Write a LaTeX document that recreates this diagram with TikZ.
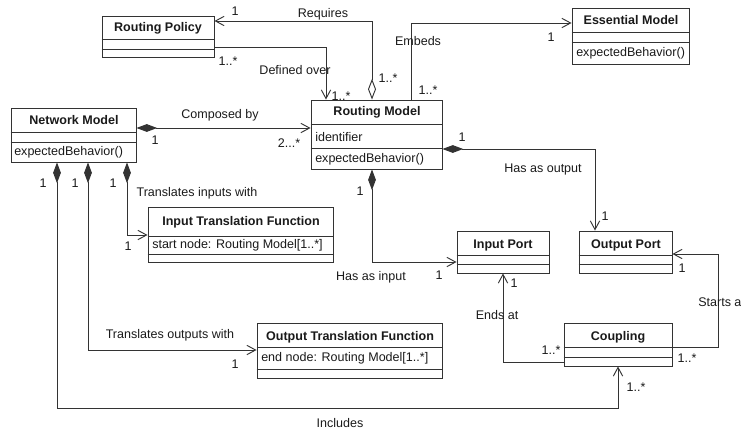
\documentclass[tikz,border=0pt]{standalone}
\usepackage{fontspec}
\setmainfont{Liberation Sans}
\usetikzlibrary{arrows.meta,fit}
\definecolor{lc}{HTML}{333333}
\definecolor{tc}{HTML}{1A1A1A}
\newcommand\csep[2]{\draw[link] (#1.west |- 0,#2) -- (#1.east |- 0,#2);}
\begin{document}
\begin{tikzpicture}[x=0.75pt,y=-0.75pt,
  font=\fontsize{9.4}{11}\selectfont,
  every node/.style={inner sep=0pt, text=tc},
  cls/.style={draw=lc, fill=white, line width=0.7pt, inner sep=0pt},
  ttl/.style={font=\fontsize{9.4}{11}\selectfont\bfseries},
  mem/.style={anchor=west},
  link/.style={draw=lc, line width=0.7pt},
  assoc/.style={link, -{Straight Barb[length=6.5pt,width=7pt]}},
  comp/.style={link, {Diamond[length=15.5pt,width=5.8pt]}-{Straight Barb[length=6.5pt,width=7pt]}},
  agg/.style={link, {Diamond[open,length=15.5pt,width=6pt]}-{Straight Barb[length=6.5pt,width=7pt]}}
]
\useasboundingbox (0,0) rectangle (741,432);

% ---------- classes ----------
\node[cls, fit={(102,16)(214,57)}] (rp) {};
\csep{rp}{39}\csep{rp}{49}
\node[ttl] (rpt) at (158,28) {Routing Policy};

\node[cls, fit={(572,8)(689,64)}] (em) {};
\csep{em}{32}\csep{em}{42}
\node[ttl] (emt) at (631,20) {Essential Model};
\node[mem] (emm) at (576,53) {expectedBehavior()};

\node[cls, fit={(11,108)(136,162)}] (nm) {};
\csep{nm}{132}\csep{nm}{142}
\node[ttl] (nmt) at (74,120) {Network Model};
\node[mem] (nmm) at (14,152) {expectedBehavior()};

\node[cls, fit={(311,100)(442,169)}] (rm) {};
\csep{rm}{124}\csep{rm}{148}
\node[ttl] (rmt) at (377,112) {Routing Model};
\node[mem] (rma) at (315,137) {identifier};
\node[mem] (rmm) at (315,159) {expectedBehavior()};

\node[cls, fit={(148,207)(333,262)}] (itf) {};
\csep{itf}{236}\csep{itf}{254}
\node[ttl] (itft) at (241,222) {Input Translation Function};
\node[mem] (itfa) at (152,245) {start node: Routing Model[1..*]};

\node[cls, fit={(257,323)(442,378)}] (otf) {};
\csep{otf}{347}\csep{otf}{369}
\node[ttl] (otft) at (350,337) {Output Translation Function};
\node[mem] (otfa) at (261,358) {end node: Routing Model[1..*]};

\node[cls, fit={(457,231)(549,273)}] (ip) {};
\csep{ip}{255}\csep{ip}{264}
\node[ttl] (ipt) at (503,245) {Input Port};

\node[cls, fit={(579,231)(672,273)}] (op) {};
\csep{op}{255}\csep{op}{264}
\node[ttl] (opt) at (626,245) {Output Port};

\node[cls, fit={(564,323)(672,366)}] (cp) {};
\csep{cp}{347}\csep{cp}{357}
\node[ttl] (cpt) at (618,337) {Coupling};

% ---------- connectors ----------
\draw[agg] (rm.north -| 372,0) |- (rp.east |- 0,21);
\draw[assoc] (rp.east |- 0,47) -| (rm.north -| 326,0);
\draw[assoc] (rm.north -| 411,0) |- (em.west |- 0,23);
\draw[comp] (nm.east |- 0,128) -- (rm.west |- 0,128);
\draw[comp] (rm.east |- 0,149) -| (op.north -| 595,0);
\draw[comp] (rm.south -| 372,0) |- (ip.west |- 0,262);
\draw[comp] (nm.south -| 127,0) |- (itf.west |- 0,235);
\draw[comp] (nm.south -| 88,0) |- (otf.west |- 0,350);
\coordinate (incB) at (57,408);
\draw[comp] (nm.south -| incB) -- (incB) -| (cp.south);
\draw[assoc] (cp.west |- 0,362) -| (ip.south -| 503,0);
\coordinate (saB) at (718,347);
\draw[assoc] (cp.east |- saB) -- (saB) |- (op.east |- 0,254);

% ---------- labels ----------
\node (l1) at (235,11) {1};
\node (l2) at (323,14) {Requires};
\node (l3) at (388,78) {1..*};
\node (l4) at (228,61) {1..*};
\node (l5) at (295,70) {Defined over};
\node (l6) at (341,96) {1..*};
\node (l7) at (418,41) {Embeds};
\node (l8) at (551,37) {1};
\node (l9) at (428,90) {1..*};
\node (l10) at (220,115) {Composed by};
\node (l11) at (155,140) {1};
\node (l12) at (289,143) {2...*};
\node (l13) at (462,137) {1};
\node (l14) at (543,169) {Has as output};
\node (l15) at (605,216) {1};
\node (l16) at (360,191) {1};
\node (l17) at (371,277) {Has as input};
\node (l18) at (439,275) {1};
\node (l19) at (682,268) {1};
\node[anchor=west] (l20) at (698,302) {Starts a};
\node (l21) at (687,358) {1..*};
\node (l22) at (514,283) {1};
\node (l23) at (497,315) {Ends at};
\node (l24) at (551,350) {1..*};
\node (l25) at (636,387) {1..*};
\node (l26) at (340,423) {Includes};
\node (l27) at (43,183) {1};
\node (l28) at (75,183) {1};
\node (l29) at (113,183) {1};
\node (l30) at (197,193) {Translates inputs with};
\node (l31) at (128,246) {1};
\node (l32) at (170,335) {Translates outputs with};
\node (l33) at (235,364) {1};
\end{tikzpicture}
\end{document}
